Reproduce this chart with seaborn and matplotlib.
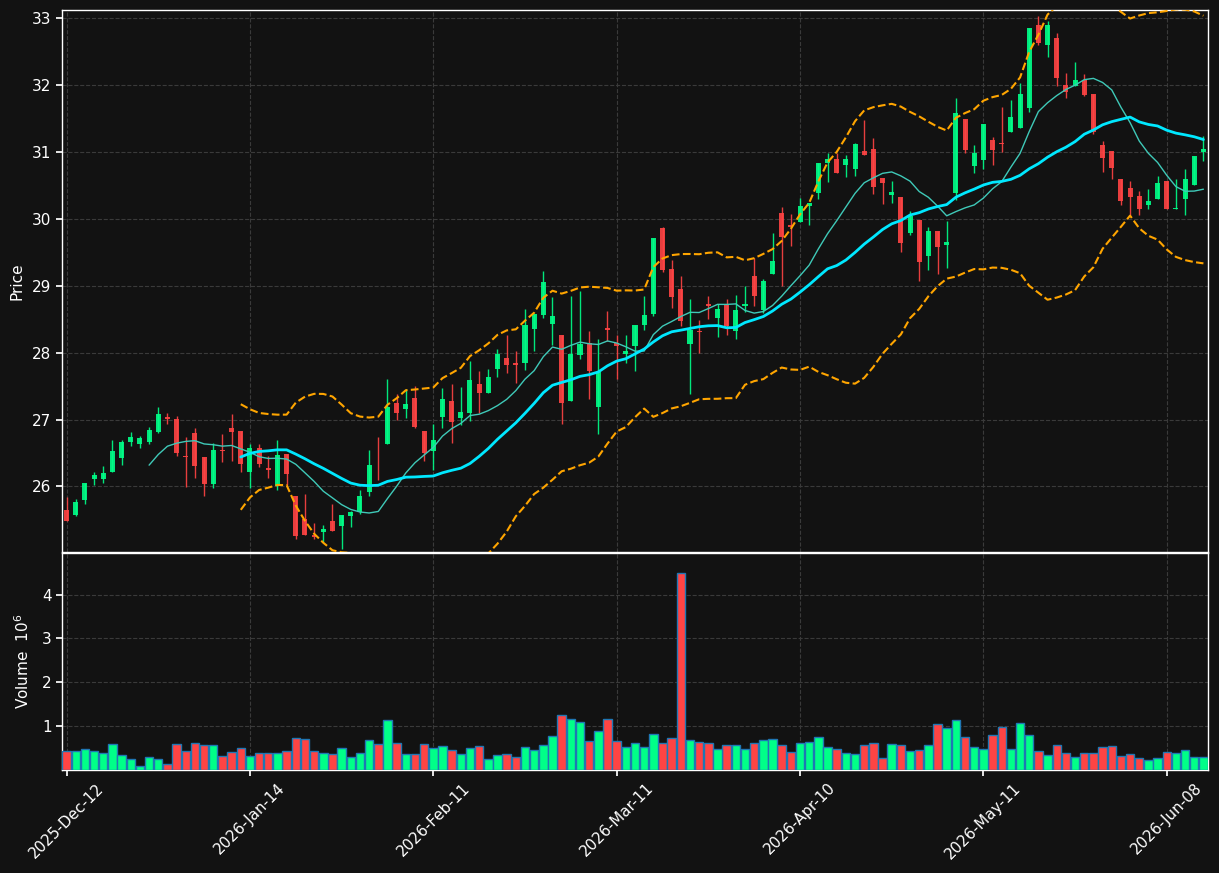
import numpy as np
import pandas as pd
import matplotlib
matplotlib.use("Agg")
import matplotlib.pyplot as plt
import seaborn as sns

# ---------------- data ----------------
opens = [25.65, 25.57, 25.80, 26.11, 26.11, 26.21, 26.43, 26.67, 26.64, 26.66,
         26.81, 27.04, 27.01, 26.45, 26.80, 26.44, 26.04, 26.55, 26.87, 26.83,
         26.21, 26.57, 26.28, 26.00, 26.49, 25.86, 25.51, 25.27, 25.32, 25.48,
         25.41, 25.56, 25.62, 25.91, 26.43, 26.64, 27.25, 27.16, 27.32, 26.83,
         26.53, 27.04, 27.28, 27.03, 27.09, 27.53, 27.39, 27.76, 27.92, 27.85,
         27.85, 28.36, 28.56, 28.43, 28.26, 27.27, 27.97, 28.14, 27.18, 28.37,
         28.14, 27.98, 28.10, 28.41, 28.58, 29.86, 29.25, 28.95, 28.13, 28.32,
         28.73, 28.51, 28.73, 28.33, 28.70, 29.15, 28.63, 29.17, 30.09, 29.90,
         29.95, 30.19, 30.39, 30.83, 30.90, 30.80, 30.74, 31.02, 31.04, 30.61,
         30.36, 30.33, 29.79, 29.98, 29.45, 29.82, 29.61, 30.39, 31.49, 30.79,
         30.88, 31.18, 31.13, 31.29, 31.36, 31.66, 32.90, 32.59, 32.70, 32.00,
         31.99, 32.08, 31.87, 31.10, 31.01, 30.60, 30.46, 30.34, 30.21, 30.29,
         30.57, 30.14, 30.29, 30.50, 31.00]
highs = [25.84, 25.81, 26.05, 26.21, 26.30, 26.70, 26.70, 26.81, 26.75, 26.89,
         27.19, 27.09, 27.05, 26.74, 26.88, 26.44, 26.65, 26.78, 27.08, 26.83,
         26.64, 26.63, 26.45, 26.70, 26.49, 25.86, 25.88, 25.46, 25.43, 25.73,
         25.57, 25.64, 25.95, 26.54, 26.74, 27.60, 27.38, 27.45, 27.50, 26.83,
         26.93, 27.47, 27.53, 27.48, 27.88, 27.73, 27.75, 28.05, 28.27, 28.02,
         28.65, 28.58, 29.22, 28.83, 28.26, 28.85, 28.92, 28.33, 28.20, 28.62,
         28.26, 28.26, 28.41, 28.85, 29.71, 29.88, 29.38, 29.14, 28.80, 28.48,
         28.85, 28.73, 28.80, 28.86, 28.99, 29.41, 29.10, 29.78, 30.17, 30.07,
         30.31, 30.23, 30.83, 30.98, 30.98, 30.95, 31.13, 31.47, 31.20, 30.61,
         30.56, 30.33, 30.11, 29.98, 29.87, 29.82, 29.96, 31.81, 31.49, 31.10,
         31.42, 31.22, 31.67, 31.77, 32.03, 32.85, 33.03, 32.96, 32.78, 32.18,
         32.35, 32.16, 31.87, 31.16, 31.01, 30.60, 30.56, 30.41, 30.44, 30.64,
         30.57, 30.59, 30.74, 30.94, 31.23]
lows = [25.48, 25.56, 25.73, 26.02, 26.05, 26.21, 26.32, 26.60, 26.58, 26.63,
        26.80, 26.94, 26.46, 25.99, 26.12, 25.85, 25.97, 26.36, 26.38, 26.22,
        25.98, 26.29, 26.13, 25.94, 26.02, 25.21, 25.27, 25.21, 25.17, 25.34,
        25.07, 25.40, 25.59, 25.85, 26.09, 26.64, 27.00, 27.03, 26.88, 26.38,
        26.25, 26.88, 26.65, 26.92, 26.98, 27.09, 27.39, 27.63, 27.70, 27.54,
        27.74, 28.02, 28.51, 28.11, 26.94, 27.27, 27.91, 27.30, 26.78, 28.17,
        27.61, 27.85, 27.73, 28.34, 28.55, 29.21, 28.66, 28.40, 27.38, 27.99,
        28.50, 28.24, 28.27, 28.21, 28.61, 28.69, 28.59, 29.17, 29.00, 29.60,
        29.95, 29.90, 30.30, 30.55, 30.68, 30.62, 30.64, 30.95, 30.37, 30.22,
        30.24, 29.51, 29.75, 29.07, 29.24, 29.17, 29.26, 30.28, 30.99, 30.68,
        30.75, 30.81, 31.00, 31.29, 31.36, 31.59, 32.60, 32.42, 31.98, 31.80,
        31.99, 31.83, 31.27, 30.70, 30.59, 30.20, 30.06, 30.05, 30.14, 30.29,
        30.15, 30.14, 30.05, 30.50, 30.87]
closes = [25.49, 25.77, 26.05, 26.17, 26.20, 26.53, 26.66, 26.74, 26.72, 26.85,
          27.08, 27.01, 26.50, 26.44, 26.31, 26.04, 26.54, 26.53, 26.82, 26.34,
          26.58, 26.34, 26.24, 26.47, 26.19, 25.26, 25.27, 25.24, 25.36, 25.34,
          25.57, 25.62, 25.86, 26.32, 26.42, 27.19, 27.10, 27.23, 26.89, 26.50,
          26.70, 27.31, 26.97, 27.11, 27.59, 27.39, 27.64, 27.98, 27.82, 27.81,
          28.41, 28.58, 29.06, 28.55, 27.25, 27.98, 28.13, 27.73, 27.71, 28.34,
          28.10, 28.02, 28.41, 28.56, 29.71, 29.24, 28.83, 28.47, 28.34, 28.31,
          28.69, 28.65, 28.40, 28.64, 28.73, 28.84, 29.07, 29.37, 29.73, 29.87,
          30.19, 30.23, 30.83, 30.90, 30.68, 30.89, 31.11, 30.95, 30.47, 30.54,
          30.40, 29.64, 30.04, 29.35, 29.82, 29.58, 29.65, 31.58, 31.03, 30.98,
          31.42, 31.03, 31.11, 31.52, 31.87, 32.85, 32.63, 32.90, 32.10, 31.89,
          32.07, 31.85, 31.30, 30.91, 30.76, 30.27, 30.33, 30.14, 30.26, 30.53,
          30.15, 30.16, 30.60, 30.94, 31.04]
volumes = [0.43, 0.43, 0.48, 0.43, 0.39, 0.59, 0.34, 0.25, 0.09, 0.30,
           0.25, 0.14, 0.59, 0.43, 0.61, 0.57, 0.57, 0.32, 0.41, 0.50,
           0.32, 0.39, 0.39, 0.39, 0.43, 0.73, 0.70, 0.43, 0.39, 0.36,
           0.50, 0.30, 0.39, 0.68, 0.59, 1.14, 0.61, 0.36, 0.36, 0.59,
           0.50, 0.55, 0.45, 0.36, 0.50, 0.55, 0.25, 0.34, 0.36, 0.30,
           0.52, 0.45, 0.57, 0.77, 1.25, 1.16, 1.09, 0.66, 0.89, 1.16,
           0.66, 0.52, 0.61, 0.52, 0.82, 0.61, 0.73, 4.50, 0.68, 0.64,
           0.61, 0.48, 0.57, 0.57, 0.48, 0.61, 0.68, 0.70, 0.57, 0.41,
           0.61, 0.64, 0.75, 0.52, 0.48, 0.39, 0.36, 0.57, 0.61, 0.27,
           0.59, 0.57, 0.43, 0.45, 0.57, 1.05, 0.95, 1.14, 0.75, 0.52,
           0.48, 0.80, 0.98, 0.48, 1.07, 0.80, 0.43, 0.34, 0.57, 0.39,
           0.30, 0.39, 0.39, 0.52, 0.55, 0.32, 0.36, 0.27, 0.23, 0.27,
           0.41, 0.39, 0.45, 0.30, 0.30]  # in millions
tick_positions = [0, 20, 40, 60, 80, 100, 120]
tick_labels = ["2025-Dec-12", "2026-Jan-14", "2026-Feb-11", "2026-Mar-11",
               "2026-Apr-10", "2026-May-11", "2026-Jun-08"]

# ---------------- styling ----------------
BG = "#121212"
UP = "#00ff88"
DOWN = "#ff4444"
GRID = "#3a3a3a"

sns.set_theme(style="dark", rc={
    "figure.facecolor": BG, "axes.facecolor": BG, "axes.edgecolor": "white",
    "axes.labelcolor": "white", "xtick.color": "white", "ytick.color": "white",
    "text.color": "white", "axes.grid": True, "grid.color": GRID,
    "grid.linestyle": "--", "grid.linewidth": 0.8,
    "xtick.bottom": True, "ytick.left": True,
})
plt.rcParams["font.family"] = ["DejaVu Sans"]

df = pd.DataFrame({"o": opens, "h": highs, "l": lows, "c": closes, "v": volumes})
df["idx"] = np.arange(len(df))
df["dir"] = np.where(df["c"] >= df["o"], "up", "down")
df["ma10"] = df["c"].rolling(10).mean()
df["ma20"] = df["c"].rolling(20).mean()
sd = df["c"].rolling(20).std(ddof=0)
df["upper"] = df["ma20"] + 2 * sd
df["lower"] = df["ma20"] - 2 * sd

fig = plt.figure(figsize=(12.19, 8.73), dpi=100)
L, R = 62 / 1219, 1208 / 1219
ax = fig.add_axes([L, 1 - 552 / 873, R - L, (552 - 10) / 873])
axv = fig.add_axes([L, 1 - 770 / 873, R - L, (770 - 553) / 873])

# ---------------- candles ----------------
colors = [UP if d == "up" else DOWN for d in df["dir"]]
ax.vlines(df["idx"], df["l"], df["h"], colors=colors, linewidth=1.0, alpha=0.9, zorder=2)
body_bottom = np.minimum(df["o"], df["c"])
body_h = np.maximum(np.abs(df["c"] - df["o"]), 0.012)
ax.bar(df["idx"], body_h, bottom=body_bottom, width=0.55, color=colors,
       alpha=0.9, linewidth=0, zorder=3)

# ---------------- moving averages / bands ----------------
sns.lineplot(data=df, x="idx", y="ma10", ax=ax, color="#3fc9b8", linewidth=1.0, zorder=4)
sns.lineplot(data=df, x="idx", y="ma20", ax=ax, color="#00e8ff", linewidth=2.0, zorder=4)
sns.lineplot(data=df, x="idx", y="upper", ax=ax, color="orange", linewidth=1.5,
             linestyle="--", zorder=4)
sns.lineplot(data=df, x="idx", y="lower", ax=ax, color="orange", linewidth=1.5,
             linestyle="--", zorder=4)

ax.set_xlim(-0.5, len(df) - 0.5)
ax.set_ylim(25.02, 33.12)
ax.set_yticks(range(26, 34))
ax.set_xticks(tick_positions)
ax.tick_params(axis="x", labelbottom=False, length=0)
ax.tick_params(axis="y", labelsize=11, length=4)
ax.set_xlabel("")
ax.set_ylabel("Price", fontsize=11)
ax.grid(True, color=GRID, linestyle="--", linewidth=0.8)
ax.set_axisbelow(True)

# ---------------- volume ----------------
sns.barplot(data=df, x="idx", y="v", hue="dir", palette={"up": UP, "down": DOWN},
            dodge=False, native_scale=True, width=0.92, edgecolor="#1f77b4",
            linewidth=1.0, saturation=1, errorbar=None, legend=False, ax=axv, zorder=3)
axv.set_xlim(-0.5, len(df) - 0.5)
axv.set_ylim(0, 4.95)
axv.set_yticks([1, 2, 3, 4])
axv.set_xticks(tick_positions)
axv.set_xticklabels(tick_labels, rotation=45, ha="center", fontsize=11)
axv.tick_params(axis="y", labelsize=11, length=4)
axv.tick_params(axis="x", length=4)
axv.set_xlabel("")
axv.set_ylabel("Volume  $10^{6}$", fontsize=11)
axv.grid(True, color=GRID, linestyle="--", linewidth=0.8)
axv.set_axisbelow(True)

for a in (ax, axv):
    for s in a.spines.values():
        s.set_color("white")
        s.set_linewidth(1.0)
ax.yaxis.set_label_coords(-0.033, 0.5)
axv.yaxis.set_label_coords(-0.026, 0.5)

fig.savefig("out.png", dpi=100, facecolor=BG)
